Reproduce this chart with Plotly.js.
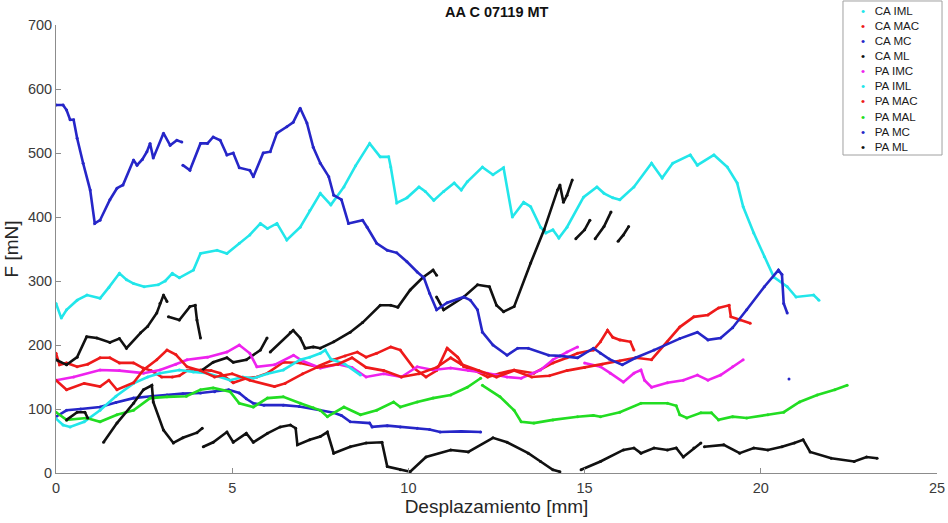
<!DOCTYPE html>
<html>
<head>
<meta charset="utf-8">
<script src="https://cdn.plot.ly/plotly-3.0.1.min.js"></script>
<style>
  html, body { margin: 0; padding: 0; background: #fff; }
  #chart { width: 948px; height: 523px; }
</style>
</head>
<body>
<div id="chart"></div>
<script>
// Force vs displacement curves, trial AA C 07119 MT

const seriesNames = ['CA IML', 'CA MAC', 'CA MC', 'CA ML', 'PA IMC', 'PA IML', 'PA MAC', 'PA MAL', 'PA MC', 'PA ML'];
const seriesColors = ['#22e6ea', '#ee1a1a', '#2626c8', '#111111', '#ee22ee', '#22e6ea', '#ee1a1a', '#22dd22', '#2626c8', '#111111'];

const xTicks = [0, 5, 10, 15, 20, 25];
const yTicks = [0, 100, 200, 300, 400, 500, 600, 700];

// CA IML
const caImlX = [0, 0.15, 0.3, 0.6, 0.88, 1.25, 1.5, 1.8, 2.0, 2.2, 2.5, 2.9, 3.1, 3.3, 3.5, 3.9, 4.1, 4.57, 4.85, 5.2, 5.5, 5.8, 6.0, 6.27, 6.55, 6.93, 7.2, 7.5, 7.8, 8.17, 8.5, 8.9, 9.2, 9.44, 9.5, 9.67, 9.96, 10.3, 10.48, 10.72, 11.0, 11.3, 11.5, 11.67, 12.1, 12.4, 12.7, 12.95, 13.27, 13.47, 13.75, 13.9, 14.1, 14.27, 14.5, 14.97, 15.35, 15.55, 15.8, 16.0, 16.4, 16.9, 17.2, 17.5, 18.0, 18.2, 18.67, 19.05, 19.33, 19.5, 19.8, 20.1, 20.37, 20.75, 21.0, 21.5, 21.65];
const caImlY = [265, 242, 255, 270, 278, 273, 290, 312, 302, 296, 291, 294, 300, 312, 305, 317, 343, 348, 343, 359, 372, 390, 382, 390, 364, 384, 410, 437, 419, 447, 480, 515, 494, 494, 478, 422, 430, 447, 440, 426, 440, 453, 442, 455, 478, 466, 477, 400, 423, 416, 384, 375, 380, 367, 384, 431, 447, 437, 430, 427, 447, 484, 461, 484, 497, 481, 497, 478, 453, 416, 375, 338, 306, 291, 275, 278, 270];

// CA MAC
const caMacX = [0, 0.1, 0.3, 0.6, 0.9, 1.25, 1.53, 1.8, 2.2, 2.47, 2.7, 3.0, 3.3, 3.5, 3.72, 4.1, 4.4, 4.66, 5.03, 5.4, 5.7, 6.0, 6.45, 6.93, 7.4, 7.88, 8.2, 8.55, 8.8, 9.1, 9.5, 9.77, 10.15, 10.5, 10.8, 11.1, 11.4, 11.57, 11.85, 12.25, 12.6, 13.0, 13.56, 14.1, 14.5, 14.8, 15.25, 15.45, 15.65, 15.8, 16.0, 16.3, 16.4];
const caMacY = [187, 169, 172, 166, 170, 180, 180, 172, 172, 164, 160, 150, 150, 152, 160, 161, 160, 156, 141, 148, 150, 156, 173, 172, 166, 177, 183, 189, 181, 187, 197, 192, 164, 150, 160, 195, 181, 166, 161, 150, 156, 161, 156, 172, 180, 187, 192, 205, 223, 212, 208, 205, 192];

// CA MC
const caMcX = [0, 0.3, 0.7, 1.25, 1.7, 2.2, 2.7, 3.15, 3.6, 4.1, 4.5, 4.9, 5.2, 5.4, 5.6, 5.9, 6.45, 6.9, 7.5, 7.88, 8.1, 8.35, 8.9, 8.97, 9.4, 9.77, 10.25, 10.6, 10.9, 11.5, 12.05];
const caMcY = [88, 98, 100, 103, 110, 117, 120, 122, 124, 125, 127, 130, 125, 116, 109, 106, 106, 104, 98, 94, 90, 80, 78, 72, 74, 72, 70, 68, 64, 65, 64];

// CA ML
const caMlX = [0, 0.3, 0.6, 0.87, 1.16, 1.53, 1.8, 2.0, 2.4, 2.6, 2.86, 2.95, 3.05, 3.15, null, 3.19, 3.5, 3.8, 3.95, 4.0, 4.1, null, 4.15, 4.46, 4.85, 5.03, 5.4, 5.8, 5.99, null, 6.08, 6.65, 6.73, 6.93, 7.07, 7.3, 7.5, 7.88, 8.35, 8.7, 9.2, 9.5, 9.7, 10.05, 10.4, 10.7, 10.8, null, 10.8, 11.0, 11.57, 11.96, 12.3, 12.5, 12.7, 13.0, 13.47, 13.85, 14.23, 14.3, 14.4, 14.5, 14.65, null, 14.75, 15.0, 15.15, null, 15.3, 15.55, 15.75, null, 15.95, 16.1, 16.25];
const caMlY = [177, 169, 181, 213, 211, 204, 210, 195, 219, 229, 250, 265, 278, 268, null, 244, 239, 260, 262, 239, 211, null, 161, 173, 180, 173, 177, 192, 211, null, 189, 220, 223, 211, 195, 197, 195, 205, 220, 235, 262, 262, 259, 286, 305, 317, 309, null, 275, 255, 275, 294, 291, 262, 252, 260, 328, 380, 442, 450, 423, 434, 458, null, 366, 380, 395, null, 366, 385, 408, null, 362, 372, 385];

// PA IMC
const paImcX = [0, 0.5, 1.25, 1.8, 2.48, 2.95, 3.4, 3.72, 4.3, 4.85, 5.2, 5.5, 5.7, 6.2, 6.74, 7.0, 7.5, 8.0, 8.4, 8.8, 9.3, 9.8, 10.25, 10.7, 11.2, 11.7, 12.25, 12.8, 13.2, 13.75, 14.1, 14.5, 14.8, null, 15.0, 15.45, 15.73, 16.1, 16.4, 16.6, 16.7, 16.9, 17.35, 17.8, 18.2, 18.5, 18.86, 19.2, 19.5];
const paImcY = [145, 150, 161, 160, 156, 161, 170, 177, 181, 189, 200, 187, 166, 169, 184, 175, 164, 170, 165, 150, 155, 150, 166, 161, 164, 160, 156, 150, 148, 161, 177, 189, 197, null, 172, 166, 156, 142, 156, 161, 145, 134, 141, 145, 153, 145, 153, 166, 177];

// PA IML
const paImlX = [0, 0.2, 0.4, 0.8, 1.25, 1.7, 2.2, 2.6, 2.95, 3.5, 3.9, 4.3, 4.94, 5.3, 5.6, 6.0, 6.45, 6.93, 7.2, 7.5, 7.64, 7.8, 8.2, 8.64];
const paImlY = [85, 75, 72, 80, 98, 120, 140, 150, 156, 161, 158, 156, 145, 150, 148, 155, 161, 177, 181, 187, 192, 178, 170, 153];

// PA MAC
const paMacX = [0, 0.3, 0.8, 1.25, 1.5, 1.73, 2.2, 2.48, 2.86, 3.15, 3.4, 3.72, 4.1, 4.5, 5.0, 5.5, 6.2, 6.5, 7.0, 7.4, 8.0, 8.4, 8.8, 9.3, 9.8, 10.3, 10.8, 11.2, 11.5, 12.0, 12.5, 13.0, 13.5, 14.0, 14.5, 15.0, 15.5, 16.0, 16.45, 16.9, 17.35, 17.7, 18.1, 18.5, 18.8, 19.1, 19.15, 19.4, 19.7];
const paMacY = [145, 130, 140, 135, 145, 130, 141, 161, 177, 192, 185, 166, 160, 150, 155, 145, 135, 140, 155, 165, 170, 180, 165, 160, 150, 155, 165, 180, 170, 160, 150, 160, 150, 152, 160, 165, 170, 175, 180, 177, 205, 228, 244, 247, 258, 262, 244, 239, 234];

// PA MAL
const paMalX = [0, 0.3, 0.87, 1.25, 1.73, 2.2, 2.67, 3.15, 3.7, 4.1, 4.46, 4.94, 5.2, 5.6, 6.0, 6.45, 6.93, 7.3, 7.5, 7.7, 8.17, 8.64, 9.1, 9.58, 9.77, 10.25, 10.7, 11.2, 11.67, 12.05, null, 12.1, 12.6, 13.0, 13.2, 13.56, 14.1, 14.8, 15.25, 15.45, 16.0, 16.6, 17.35, 17.6, 17.7, 17.9, 18.3, 18.6, 18.8, 19.2, 19.6, 20.2, 20.65, 21.1, 21.6, 22.1, 22.45];
const paMalY = [95, 83, 86, 80, 91, 98, 117, 119, 120, 130, 133, 127, 109, 103, 117, 119, 109, 102, 98, 88, 103, 91, 98, 111, 103, 111, 117, 122, 134, 148, null, 137, 119, 98, 80, 78, 83, 88, 90, 88, 95, 109, 109, 105, 91, 86, 94, 94, 83, 88, 86, 91, 95, 111, 122, 130, 137];

// PA MC
const paMcX = [0, 0.2, 0.3, 0.4, 0.5, 0.6, 0.77, 0.97, 1.1, 1.25, 1.53, 1.73, 1.9, 2.2, 2.3, 2.45, 2.58, 2.67, 2.76, 3.05, 3.24, 3.43, 3.57, null, 3.6, 3.8, 4.1, 4.3, 4.46, 4.66, 4.85, 5.03, 5.2, 5.5, 5.6, 5.88, 6.08, 6.27, 6.55, 6.73, 6.93, 7.12, 7.3, 7.5, 7.74, 7.88, 8.1, 8.3, 8.7, 8.83, 9.1, 9.4, 9.67, 9.96, 10.25, 10.44, 10.6, 10.8, 11.1, 11.57, 11.76, 11.96, 12.1, 12.4, 12.8, 13.1, 13.4, 13.98, 14.3, 14.8, 15.25, 15.45, 15.7, 16.07, 16.45, 16.97, 17.7, 18.2, 18.5, 18.86, 19.2, 19.6, 20.1, 20.5, 20.6, 20.65, 20.75, null, 20.8];
const paMcY = [575, 575, 567, 552, 552, 523, 484, 442, 390, 395, 427, 445, 450, 489, 481, 490, 502, 515, 492, 531, 512, 520, 517, null, 481, 473, 515, 515, 525, 520, 497, 500, 477, 473, 463, 500, 502, 531, 541, 548, 570, 547, 509, 484, 463, 434, 427, 390, 395, 384, 359, 348, 344, 330, 314, 305, 281, 255, 266, 275, 270, 255, 220, 200, 184, 195, 195, 184, 183, 180, 195, 187, 178, 169, 180, 192, 210, 220, 208, 211, 227, 255, 291, 317, 310, 265, 250, null, 147];

// PA ML
const paMlX = [0.3, 0.6, 0.82, 0.9, null, 1.35, 1.73, 2.2, 2.48, 2.72, 2.76, 3.05, 3.33, 3.6, 4.0, 4.15, null, 4.18, 4.46, 4.85, 5.03, 5.4, 5.6, 6.0, 6.36, 6.65, 6.8, 6.85, 7.2, 7.5, 7.7, 7.88, 8.35, 8.8, 9.25, 9.4, 9.77, 10.05, 10.5, 11.2, 11.7, 12.4, 12.8, 13.4, 13.75, 14.1, 14.3, null, 14.9, 15.45, 16.1, 16.4, 16.6, 16.97, 17.35, 17.6, 17.8, 18.1, 18.3, null, 18.4, 18.95, 19.4, 19.8, 20.2, 20.6, 20.95, 21.2, 21.4, 22.0, 22.65, 23.0, 23.3];
const paMlY = [83, 95, 95, 86, null, 48, 78, 109, 130, 137, 111, 67, 47, 55, 63, 70, null, 41, 48, 64, 48, 62, 48, 62, 72, 75, 70, 44, 52, 57, 64, 31, 41, 47, 48, 10, 5, 2, 25, 36, 33, 55, 48, 31, 18, 5, 2, null, 5, 18, 36, 39, 31, 39, 36, 39, 25, 39, 47, null, 41, 44, 31, 39, 36, 41, 47, 52, 33, 23, 18, 25, 23];

const seriesX = [caImlX, caMacX, caMcX, caMlX, paImcX, paImlX, paMacX, paMalX, paMcX, paMlX];
const seriesY = [caImlY, caMacY, caMcY, caMlY, paImcY, paImlY, paMacY, paMalY, paMcY, paMlY];

const fontFamily = '"Liberation Sans", Arial, Helvetica, sans-serif';
const axisGrey = '#8c8c8c';
const textDark = '#262626';

const traces = seriesNames.map((name, i) => ({
  type: 'scatter',
  mode: 'lines+markers',
  name: name,
  x: seriesX[i],
  y: seriesY[i],
  connectgaps: false,
  line: { color: seriesColors[i], width: 2.6 },
  marker: { color: seriesColors[i], size: 3 },
  showlegend: false,
  hoverinfo: 'x+y+name'
}));

// Boxed key in the upper-right corner: one dot and label per series
const keyText = seriesNames.map((name, i) =>
  '<span style="color:' + seriesColors[i] + '">\u2022</span>\u00a0\u00a0\u00a0' + name
).join('<br>');

const layout = {
  width: 948,
  height: 523,
  paper_bgcolor: '#ffffff',
  plot_bgcolor: '#ffffff',
  margin: { l: 56, r: 11, t: 25, b: 50, pad: 0 },
  font: { family: fontFamily, color: textDark, size: 14 },
  title: {
    text: '<b>AA C 07119 MT</b>',
    font: { family: fontFamily, size: 14.5, color: '#111111' },
    x: 0.524, xanchor: 'center',
    y: 0.977, yanchor: 'middle', yref: 'container'
  },
  xaxis: {
    range: [0, 25],
    tickvals: xTicks,
    ticktext: xTicks.map(String),
    ticks: 'inside',
    ticklen: 5,
    tickcolor: axisGrey,
    showline: true,
    linecolor: axisGrey,
    linewidth: 1,
    mirror: false,
    showgrid: false,
    zeroline: false,
    tickfont: { family: fontFamily, size: 14.5, color: '#3a3a3a' },
    ticklabelstandoff: 2,
    title: { text: 'Desplazamiento [mm]', font: { family: fontFamily, size: 19, color: textDark }, standoff: 3 }
  },
  yaxis: {
    range: [0, 700],
    tickvals: yTicks,
    ticktext: yTicks.map(String),
    ticks: 'inside',
    ticklen: 5,
    tickcolor: axisGrey,
    showline: true,
    linecolor: axisGrey,
    linewidth: 1,
    mirror: false,
    showgrid: false,
    zeroline: false,
    tickfont: { family: fontFamily, size: 14.5, color: '#3a3a3a' },
    title: { text: 'F [mN]', font: { family: fontFamily, size: 19, color: textDark }, standoff: 4 }
  },
  shapes: [{
    type: 'rect', xref: 'paper', yref: 'paper', layer: 'above',
    x0: 0.8933, x1: 1.0057, y0: 0.7098, y1: 1.0536,
    line: { color: '#a0a0a0', width: 1 },
    fillcolor: '#ffffff'
  }],
  annotations: [{
    xref: 'paper', yref: 'paper',
    x: 0.9115, y: 1.0513, xanchor: 'left', yanchor: 'top',
    align: 'left', showarrow: false,
    text: keyText,
    font: { family: fontFamily, size: 11.6, color: '#1a1a1a' }
  }],
  showlegend: false
};

Plotly.newPlot('chart', traces, layout, { displayModeBar: false, responsive: false, staticPlot: true });
</script>
</body>
</html>
